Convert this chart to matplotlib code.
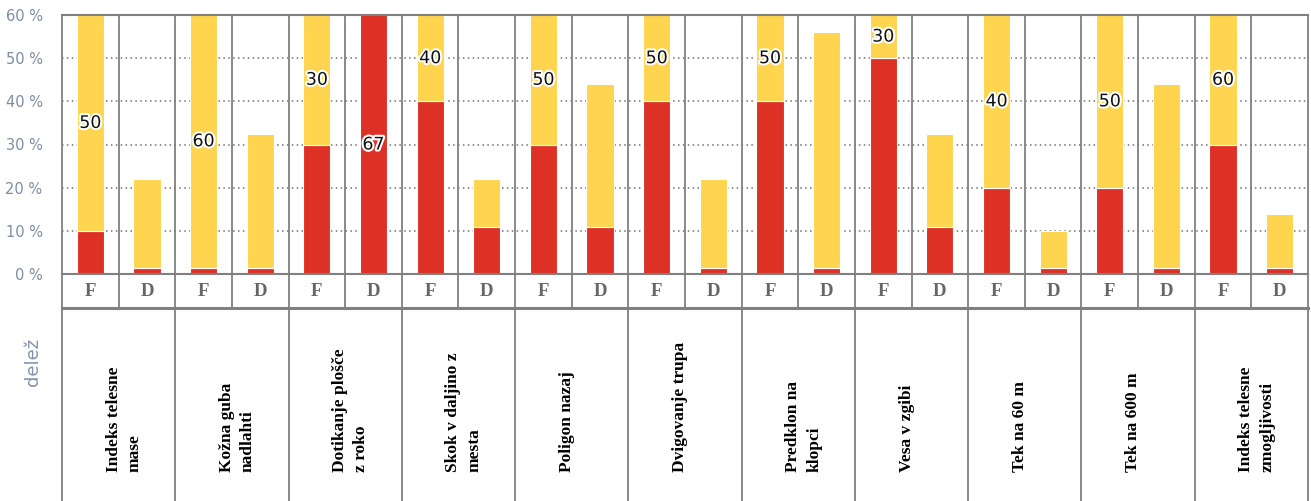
import matplotlib
matplotlib.use("Agg")
import matplotlib.pyplot as plt
import matplotlib.patheffects as pe
from matplotlib.transforms import ScaledTranslation
import numpy as np

categories = ["Indeks telesne\nmase", "Kožna guba\nnadlahti", "Dotikanje plošče\nz roko",
              "Skok v daljino z\nmesta", "Poligon nazaj", "Dvigovanje trupa",
              "Predklon na\nklopci", "Vesa v zgibi", "Tek na 60 m", "Tek na 600 m",
              "Indeks telesne\nzmogljivosti"]
groups = ["F", "D"]
f_red = [10, 1.5, 30, 40, 30, 40, 40, 50, 20, 20, 30]
f_yellow = [50, 60, 30, 40, 50, 50, 50, 30, 40, 50, 60]
d_red = [1.5, 1.5, 67, 11, 11, 1.5, 1.5, 11, 1.5, 1.5, 1.5]
d_yellow = [20.5, 31, 0, 11, 33, 20.5, 54.5, 21.5, 8.5, 42.5, 12.5]
yticks = [0, 10, 20, 30, 40, 50, 60]
ytick_labels = ["0 %", "10 %", "20 %", "30 %", "40 %", "50 %", "60 %"]
ylabel = "delež"

RED = "#DD3126"
YEL = "#FFD54F"
LINE = "#808080"
TICKC = "#7E8CA3"

W, H = 1311, 501
fig = plt.figure(figsize=(W / 100, H / 100), dpi=100)
left, right = 62 / W, 1308 / W
top_px, zero_px = 15, 274
ax = fig.add_axes([left, (H - zero_px) / H, right - left, (zero_px - top_px) / H])
ax2 = fig.add_axes([left, 0, right - left, (H - zero_px) / H])

n = len(categories)
ncol = 2 * n
ymax = 60

reds = []
yels = []
for i in range(n):
    reds += [f_red[i], d_red[i]]
    yels += [f_yellow[i], d_yellow[i]]
reds = np.array(reds, float)
yels = np.array(yels, float)
x = np.arange(ncol)

bw = 0.48
ax.bar(x, reds, width=bw, color=RED, edgecolor="white", linewidth=0.8, zorder=3)
ax.bar(x, yels, width=bw, bottom=reds, color=YEL, edgecolor="white", linewidth=0.8, zorder=3)

# value labels on segments reaching the top
txt_fx = [pe.withStroke(linewidth=3, foreground="white")]
for xi, r, yv in zip(x, reds, yels):
    for b, h in ((0, r), (r, yv)):
        if h > 0 and b + h >= ymax:
            c = (b + min(b + h, ymax)) / 2
            ax.text(xi, c, f"{int(round(h))}", ha="center", va="center", fontsize=12.5,
                    family="DejaVu Sans", color="#111111", path_effects=txt_fx, zorder=5)

ax.set_xlim(-0.5, ncol - 0.5)
ax.set_ylim(0, ymax)
for s in ax.spines.values():
    s.set_visible(False)
ax.set_xticks([])
ax.set_yticks(yticks)
ax.set_yticklabels(ytick_labels, fontsize=10.5, color=TICKC, family="DejaVu Sans")
ax.tick_params(axis="y", length=0, pad=14)
for g in yticks[1:-1]:
    ax.axhline(g, color="#707070", linestyle=(0, (1, 2.2)), linewidth=1.1, zorder=1)
ax.axhline(0, color=LINE, linewidth=1.5, zorder=4, clip_on=False)
ax.axhline(ymax, color=LINE, linewidth=1.5, zorder=4, clip_on=False)
for k in range(ncol + 1):
    ax.axvline(k - 0.5, color=LINE, linewidth=1.3, zorder=4, clip_on=False)

# table area below
tab_h = H - zero_px
ax2.set_xlim(-0.5, ncol - 0.5)
ax2.set_ylim(tab_h, 0)
ax2.axis("off")
row_h = 34
ax2.plot([-0.5, ncol - 0.5], [row_h, row_h], color=LINE, linewidth=2.2, clip_on=False)
for k in range(ncol + 1):
    ax2.plot([k - 0.5, k - 0.5], [0, row_h], color=LINE, linewidth=1.3, clip_on=False)
for k in range(0, ncol + 1, 2):
    ax2.plot([k - 0.5, k - 0.5], [row_h, tab_h], color=LINE, linewidth=1.3, clip_on=False)
for xi in x:
    ax2.text(xi, row_h / 2, groups[xi % 2], ha="center", va="center", fontsize=13.5,
             family="Liberation Serif", weight="bold", color="#666666")

for i, cat in enumerate(categories):
    cx = 2 * i + 0.5
    for j, line in enumerate(cat.split("\n")):
        off = ScaledTranslation((-5 + 21 * j) / 100, 0, fig.dpi_scale_trans)
        ax2.text(cx, 472 - zero_px, line, rotation=90, rotation_mode="anchor",
                 ha="left", va="center", fontsize=12.5, family="Liberation Serif",
                 weight="bold", color="black", transform=ax2.transData + off)

fig.text(33 / W, 1 - 362 / H, ylabel, rotation=90, ha="center", va="center",
         fontsize=13, color="#8393AA", family="DejaVu Sans")

fig.savefig("out.png", dpi=100)
